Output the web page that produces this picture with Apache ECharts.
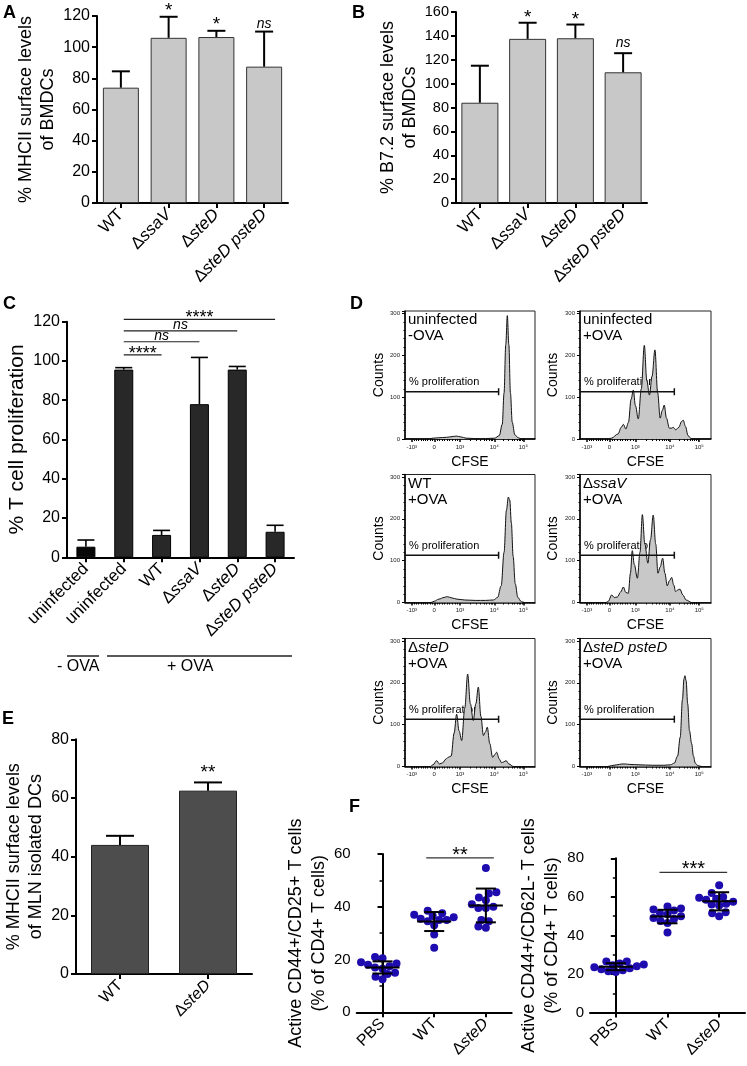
<!DOCTYPE html>
<html><head><meta charset="utf-8">
<script src="https://cdn.jsdelivr.net/npm/echarts@6/dist/echarts.min.js"></script>
<style>html,body{margin:0;padding:0;background:#fff}#c{width:747px;height:1066px}</style>
</head><body><div id="c"></div>
<script>
// ---------------- DATA ----------------
// Panel A: % MHCII surface levels of BMDCs
const catsAB = ['WT', 'ΔssaV', 'ΔsteD', 'ΔsteD psteD'];
const aMean = [74, 106, 106.5, 87.5];
const aSD = [10.5, 13.5, 4, 22.5];
const aSig = ['', '*', '*', 'ns'];
// Panel B: % B7.2 surface levels of BMDCs
const bMean = [84, 137.5, 138, 109.5];
const bSD = [31, 13.5, 11.5, 16];
const bSig = ['', '*', '*', 'ns'];
// Panel C: % T cell proliferation
const catsC = ['uninfected', 'uninfected', 'WT', 'ΔssaV', 'ΔsteD', 'ΔsteD psteD'];
const cMean = [5.4, 95.6, 11.4, 78, 95.6, 13];
const cSD = [3.4, 1, 2.3, 23.8, 1.6, 3.3];
const cBrackets = [
  {from: 1, to: 2, level: 103.1, label: '****'},
  {from: 1, to: 3, level: 109.8, label: 'ns'},
  {from: 1, to: 4, level: 115.3, label: 'ns'},
  {from: 1, to: 5, level: 121.2, label: '****'}
];
// Panel D: CFSE histograms, [display channel (0-1000), counts]
const cfseTickPos = [52, 225, 423, 687, 910];
const cfseTickLabels = ['-10³', '0', '10³', '10⁴', '10⁵'];
const gateEnd = 720;
const gateLevel = 113;
const histUninfNoOva = [[0,0],[180,0],[215,2],[260,3],[320,4],[370,6],[395,7],[430,5],[470,2],[540,1],[620,1],[690,2],[725,8],[748,35],[762,110],[775,225],[787,295],[799,225],[811,110],[825,40],[845,10],[870,3],[900,0],[1000,0]];
const histUninfOva = [[0,0],[200,0],[240,2],[290,12],[315,28],[331,35],[350,24],[370,40],[390,95],[407,117],[423,80],[445,48],[468,120],[491,224],[510,140],[530,105],[550,150],[572,213],[593,110],[612,50],[628,68],[643,81],[660,50],[682,26],[700,26],[712,28],[730,22],[755,28],[775,42],[788,45],[805,30],[825,8],[852,0],[1000,0]];
const histWT = [[0,0],[200,0],[225,3],[260,8],[300,12],[325,14],[360,11],[400,8],[460,6],[540,5],[620,5],[680,6],[712,12],[740,40],[762,120],[780,220],[795,252],[806,245],[818,190],[832,110],[848,45],[868,12],[895,2],[920,0],[1000,0]];
const histSsaV = [[0,0],[200,0],[216,3],[242,18],[262,12],[285,13],[310,25],[331,37],[350,24],[369,22],[385,70],[399,124],[415,90],[438,58],[458,120],[476,210],[495,140],[518,94],[538,150],[559,209],[578,140],[595,70],[612,85],[631,106],[648,70],[666,40],[683,52],[700,60],[715,42],[730,26],[747,30],[763,32],[785,18],[810,6],[852,0],[1000,0]];
const histSteD = [[0,0],[195,0],[215,4],[244,14],[265,6],[290,9],[315,18],[333,22],[355,25],[378,80],[397,125],[416,85],[436,62],[460,140],[482,221],[503,150],[525,110],[545,150],[564,190],[584,120],[603,74],[618,82],[633,94],[652,55],[674,22],[690,28],[705,34],[725,18],[743,9],[760,11],[777,14],[800,6],[833,0],[1000,0]];
const histSteDpSteD = [[0,0],[210,0],[240,2],[280,4],[320,6],[345,6],[380,5],[450,4],[550,3],[640,3],[690,4],[720,8],[745,25],[765,70],[782,160],[794,210],[801,217],[810,205],[822,150],[836,85],[852,55],[866,25],[880,8],[900,2],[930,0],[1000,0]];
// Panel E: % MHCII surface levels of MLN isolated DCs
const catsE = ['WT', 'ΔsteD'];
const eMean = [44, 62.5];
const eSD = [3.1, 2.8];
const eSig = ['', '**'];
// Panel F
const catsF = ['PBS', 'WT', 'ΔsteD'];
const f1PBS = [21, 20.5, 19, 18.5, 18, 17.5, 17, 16.5, 15, 14.5, 13.5, 12.5];
const f1WT = [38.5, 37.5, 37, 36.5, 36, 35.5, 35, 35, 34.5, 33, 29.5, 24.5];
const f1SteD = [54.7, 45.5, 45, 43.5, 42.5, 41, 40, 39.5, 39.5, 35, 34.5, 32.5, 32];
const f1Mean = [17, 34.4, 40.5];
const f1SD = [2.3, 3.6, 6.4];
const f1Bracket = {from: 1, to: 2, level: 58.5, label: '**'};
const f2PBS = [26.5, 26.5, 25.5, 25, 24.5, 24, 23.5, 23, 22.5, 22, 21.5, 21];
const f2WT = [55, 54, 53.5, 53, 51.5, 51, 50, 49, 48.5, 47.5, 46.5, 41.5];
const f2SteD = [66, 62, 60, 59.5, 59, 58.5, 57.5, 56.5, 56, 55.5, 52, 51.5, 50];
const f2Mean = [23.8, 49.8, 57.7];
const f2SD = [1.8, 3.5, 4.7];
const f2Bracket = {from: 1, to: 2, level: 72.7, label: '***'};

// ---------------- BUILD ----------------
const FONT = '"Liberation Sans", Arial, Helvetica, sans-serif';
const BLACK = '#000';
const grids = [], xAxes = [], yAxes = [], series = [], graphics = [];

function richCat(name) {
  return name.charAt(0) === 'Δ' ? '{n|Δ}{i|' + name.slice(1) + '}' : '{n|' + name + '}';
}
function catRich(fs) {
  return {n: {fontSize: fs, fontFamily: FONT, color: BLACK},
          i: {fontSize: fs, fontFamily: FONT, fontStyle: 'italic', color: BLACK}};
}
function sigEl(label, x, y, gap, fsStar, fsNs) {
  const star = label.indexOf('*') >= 0;
  return {type: 'text', style: {text: label, x: x,
    y: star ? y - gap + 0.23 * fsStar : y - gap + 0.47 * fsNs,
    align: 'center', verticalAlign: star ? 'middle' : 'bottom',
    fontSize: star ? fsStar : fsNs, fontStyle: star ? 'normal' : 'italic',
    fontFamily: FONT, fill: BLACK}};
}

function addCatGrid(o) {
  const gi = grids.length;
  grids.push({left: o.left, top: o.top, width: o.width, height: o.height});
  const xi = xAxes.length, yi = yAxes.length;
  xAxes.push({type: 'category', gridIndex: gi, data: o.cats, position: 'bottom',
    axisLine: {show: true, lineStyle: {color: BLACK, width: 2}},
    axisTick: {show: true, alignWithLabel: true, length: 5, lineStyle: {color: BLACK, width: 2}},
    axisLabel: {interval: 0, rotate: 45, margin: o.xMargin || 9, formatter: richCat, rich: catRich(o.xfs)},
    splitLine: {show: false}});
  yAxes.push({type: 'value', gridIndex: gi, min: 0, max: o.max, interval: o.interval,
    name: o.yname, nameLocation: 'middle', nameGap: o.nameGap,
    nameTextStyle: {fontSize: o.nfs, lineHeight: o.nlh, fontFamily: FONT, color: BLACK, align: 'center'},
    axisLine: {show: true, lineStyle: {color: BLACK, width: 2}},
    axisTick: {show: true, length: 5, lineStyle: {color: BLACK, width: 2}},
    minorTick: o.minor ? {show: true, splitNumber: o.minor, length: 3, lineStyle: {color: BLACK, width: 1.5}} : {show: false},
    axisLabel: {fontSize: o.yfs, fontFamily: FONT, color: BLACK, margin: o.yMargin || 7},
    splitLine: {show: false}});
  return {gi, xi, yi};
}

function barPanel(o) {
  const {xi, yi} = addCatGrid(o);
  series.push({type: 'bar', xAxisIndex: xi, yAxisIndex: yi, barWidth: o.barWidth, silent: true,
    data: o.mean.map((v, i) => ({value: v, itemStyle: {color: o.colors ? o.colors[i] : o.color}})),
    itemStyle: {borderColor: o.border, borderWidth: 1}});
  series.push({type: 'custom', xAxisIndex: xi, yAxisIndex: yi, z: 5, silent: true,
    data: o.mean.map((v, i) => [i, v, v + o.sd[i]]),
    renderItem: (params, api) => {
      const p0 = api.coord([api.value(0), api.value(1)]);
      const p1 = api.coord([api.value(0), api.value(2)]);
      const hw = o.capW / 2;
      const ch = [
        {type: 'line', shape: {x1: p0[0], y1: p0[1], x2: p1[0], y2: p1[1]}, style: {stroke: BLACK, lineWidth: o.ebw}},
        {type: 'line', shape: {x1: p1[0] - hw, y1: p1[1], x2: p1[0] + hw, y2: p1[1]}, style: {stroke: BLACK, lineWidth: o.ebw}}
      ];
      const s = o.sig ? o.sig[params.dataIndex] : '';
      if (s) ch.push(sigEl(s, p1[0], p1[1], s.indexOf('*') >= 0 ? o.starGap : o.nsGap, o.starFs, 14));
      return {type: 'group', children: ch};
    }});
  if (o.brackets) {
    series.push({type: 'custom', xAxisIndex: xi, yAxisIndex: yi, z: 5, silent: true, clip: false,
      data: o.brackets.map(b => [b.from, b.to, b.level]),
      renderItem: (params, api) => {
        const b = o.brackets[params.dataIndex];
        const a = api.coord([b.from, b.level]);
        const c = api.coord([b.to, b.level]);
        const x1 = a[0] - (o.brExt || 0), x2 = c[0] + (o.brExt || 0);
        return {type: 'group', children: [
          {type: 'line', shape: {x1: x1, y1: a[1], x2: x2, y2: a[1]}, style: {stroke: '#222', lineWidth: 1.2}},
          sigEl(b.label, (x1 + x2) / 2, a[1], o.brGap, o.starFs, 14)
        ]};
      }});
  }
}

// A
barPanel({left: 97, top: 16, width: 191, height: 187, cats: catsAB, max: 120, interval: 20,
  yname: '% MHCII surface levels\nof BMDCs', nameGap: 31, nfs: 18, nlh: 22, yfs: 16, xfs: 17,
  mean: aMean, sd: aSD, sig: aSig, color: '#c8c8c8', border: '#333', barWidth: 36,
  capW: 18, ebw: 2, starGap: 10.5, nsGap: 7.3, starFs: 19});
// B
barPanel({left: 456, top: 12, width: 191, height: 191, cats: catsAB, max: 160, interval: 20,
  yname: '% B7.2 surface levels\nof BMDCs', nameGap: 32, nfs: 18, nlh: 22, yfs: 14.5, xfs: 17,
  mean: bMean, sd: bSD, sig: bSig, color: '#c8c8c8', border: '#333', barWidth: 37,
  capW: 18, ebw: 2, starGap: 9.5, nsGap: 10, starFs: 19});
// C
barPanel({left: 67, top: 321.7, width: 227, height: 235.6, cats: catsC, max: 120, interval: 20,
  yname: '% T cell proliferation', nameGap: 33, nfs: 21, nlh: 24, yfs: 16, xfs: 17,
  mean: cMean, sd: cSD, colors: ['#080808', '#282828', '#282828', '#282828', '#282828', '#282828'],
  border: '#000', barWidth: 19, capW: 17, ebw: 1.6, starFs: 18,
  brackets: cBrackets, brGap: 5, brExt: 0});
// E
barPanel({left: 76, top: 739.3, width: 176, height: 234.7, cats: catsE, max: 80, interval: 20,
  yname: '% MHCII surface levels\nof MLN isolated DCs', nameGap: 28, nfs: 18, nlh: 22, yfs: 16, xfs: 16,
  mean: eMean, sd: eSD, sig: eSig, color: '#4d4d4d', border: '#222', barWidth: 58,
  capW: 28, ebw: 2, starGap: 14, nsGap: 8, starFs: 19});

// F dot plots
function beeswarm(vals, pxPerUnit, r) {
  const order = vals.map((v, i) => i).sort((a, b) => vals[a] - vals[b]);
  const placed = [], offs = new Array(vals.length).fill(0);
  for (const i of order) {
    const y = vals[i] * pxPerUnit;
    let best = 0;
    for (let k = 0; k < 400; k++) {
      const cand = (k % 2 ? -1 : 1) * Math.ceil(k / 2) * 0.5;
      if (placed.every(p => Math.hypot(p.x - cand, p.y - y) >= 2 * r)) { best = cand; break; }
    }
    placed.push({x: best, y: y});
    offs[i] = best;
  }
  return offs;
}
function dotPanel(o) {
  const {gi, xi, yi} = addCatGrid(o);
  const vxi = xAxes.length;
  xAxes.push({type: 'value', gridIndex: gi, min: -0.5, max: o.groups.length - 0.5, show: false});
  const pxU = o.height / o.max, catW = o.width / o.groups.length;
  o.groups.forEach((vals, g) => {
    const offs = beeswarm(vals, pxU, 3.6);
    series.push({type: 'scatter', xAxisIndex: vxi, yAxisIndex: yi, symbolSize: 8, silent: true,
      itemStyle: {color: '#1e0cae', opacity: 1},
      data: vals.map((v, i) => [g + offs[i] / catW, v])});
  });
  series.push({type: 'custom', xAxisIndex: xi, yAxisIndex: yi, z: 6, silent: true,
    data: o.mean.map((m, i) => [i, m, o.sd[i]]),
    renderItem: (params, api) => {
      const i = api.value(0), m = api.value(1), s = api.value(2);
      const pm = api.coord([i, m]), pu = api.coord([i, m + s]), pl = api.coord([i, m - s]);
      const st = {stroke: BLACK, lineWidth: 2};
      return {type: 'group', children: [
        {type: 'line', shape: {x1: pm[0] - 17, y1: pm[1], x2: pm[0] + 17, y2: pm[1]}, style: st},
        {type: 'line', shape: {x1: pu[0], y1: pu[1], x2: pl[0], y2: pl[1]}, style: st},
        {type: 'line', shape: {x1: pu[0] - 10, y1: pu[1], x2: pu[0] + 10, y2: pu[1]}, style: st},
        {type: 'line', shape: {x1: pl[0] - 10, y1: pl[1], x2: pl[0] + 10, y2: pl[1]}, style: st}
      ]};
    }});
  const b = o.bracket;
  series.push({type: 'custom', xAxisIndex: xi, yAxisIndex: yi, z: 6, silent: true, clip: false,
    data: [[b.from, b.to, b.level]],
    renderItem: (params, api) => {
      const a = api.coord([b.from, b.level]), c = api.coord([b.to, b.level]);
      const x1 = a[0] - 8, x2 = c[0] + 8;
      return {type: 'group', children: [
        {type: 'line', shape: {x1: x1, y1: a[1], x2: x2, y2: a[1]}, style: {stroke: '#333', lineWidth: 1.2}},
        sigEl(b.label, (x1 + x2) / 2, a[1], 7, 20, 14)
      ]};
    }});
}
dotPanel({left: 356.7, top: 854, width: 155, height: 158.3, cats: catsF, max: 60, interval: 20, minor: 2,
  yname: 'Active CD44+/CD25+ T cells\n(% of CD4+ T cells)', nameGap: 22, nfs: 18, nlh: 23, yfs: 15, xfs: 16,
  groups: [f1PBS, f1WT, f1SteD], mean: f1Mean, sd: f1SD, bracket: f1Bracket, yMargin: 6});
dotPanel({left: 590, top: 858.3, width: 155, height: 154.3, cats: catsF, max: 80, interval: 20, minor: 2,
  yname: 'Active CD44+/CD62L- T cells\n(% of CD4+ T cells)', nameGap: 23, nfs: 18, nlh: 23, yfs: 15, xfs: 16,
  groups: [f2PBS, f2WT, f2SteD], mean: f2Mean, sd: f2SD, bracket: f2Bracket, yMargin: 6});

// D histograms
const YMAXH = 306;
const cfseMinor = [];
for (let k = 1; k < 10; k++) {
  cfseMinor.push(cfseTickPos[1] - (cfseTickPos[1] - cfseTickPos[0]) * k / 10);
  cfseMinor.push(cfseTickPos[1] + (cfseTickPos[2] - cfseTickPos[1]) * k / 10);
}
for (let k = 2; k < 10; k++) {
  cfseMinor.push(cfseTickPos[2] + (cfseTickPos[3] - cfseTickPos[2]) * Math.log10(k));
  cfseMinor.push(cfseTickPos[3] + (cfseTickPos[4] - cfseTickPos[3]) * Math.log10(k));
}
function histPanel(o) {
  const gi = grids.length;
  grids.push({left: o.left, top: o.top, width: o.width, height: o.height, show: true,
    borderColor: '#222', borderWidth: 1, backgroundColor: 'rgba(0,0,0,0)'});
  const xi = xAxes.length;
  xAxes.push({type: 'value', gridIndex: gi, min: 0, max: 1000, position: 'bottom',
    name: 'CFSE', nameLocation: 'middle', nameGap: 16,
    nameTextStyle: {fontSize: 14, fontFamily: FONT, color: BLACK},
    axisLine: {show: true, lineStyle: {color: BLACK, width: 1.5}},
    axisTick: {show: true, customValues: cfseTickPos, length: 3, lineStyle: {color: BLACK, width: 1.5}},
    axisLabel: {customValues: cfseTickPos, fontSize: 6, margin: 5, fontFamily: FONT, color: '#222',
      formatter: v => cfseTickLabels[cfseTickPos.indexOf(v)]},
    splitLine: {show: false}});
  // minor ticks: second axis sits on top by default, shifted down onto the bottom edge
  xAxes.push({type: 'value', gridIndex: gi, min: 0, max: 1000, position: 'top', offset: -o.height,
    axisLine: {show: false}, axisLabel: {show: false}, splitLine: {show: false},
    axisTick: {show: true, inside: true, customValues: cfseMinor, length: 2, lineStyle: {color: BLACK, width: 1}}});
  const yi = yAxes.length;
  yAxes.push({type: 'value', gridIndex: gi, min: 0, max: YMAXH, interval: 100,
    name: 'Counts', nameLocation: 'middle', nameGap: o.countsGap,
    nameTextStyle: {fontSize: 14, fontFamily: FONT, color: BLACK},
    axisLine: {show: true, lineStyle: {color: BLACK, width: 1.5}},
    axisTick: {show: true, length: 3, lineStyle: {color: BLACK, width: 1}},
    minorTick: {show: true, splitNumber: 5, length: 1.5, lineStyle: {color: BLACK, width: 1}},
    axisLabel: {fontSize: 6, margin: 5, fontFamily: FONT, color: '#222',
      formatter: v => (v % 100 === 0 ? String(v) : '')},
    splitLine: {show: false}});
  series.push({type: 'line', xAxisIndex: xi, yAxisIndex: yi, data: o.data, smooth: 0.35,
    smoothMonotone: 'x', symbol: 'none', silent: true,
    lineStyle: {color: '#111', width: 1}, areaStyle: {color: '#c8c8c8', opacity: 1}});
  series.push({type: 'line', xAxisIndex: xi, yAxisIndex: yi, silent: true, z: 4,
    data: [{value: [0, gateLevel], symbol: 'none'}, {value: [gateEnd, gateLevel], symbol: 'rect', symbolSize: [1.5, 7]}],
    showSymbol: true, itemStyle: {color: '#111'}, lineStyle: {color: '#111', width: 1.3}});
  const gy = o.top + o.height * (1 - gateLevel / YMAXH);
  graphics.push({type: 'text', left: o.left + 4, top: gy - 15,
    style: {text: '% proliferation', fontSize: 11, fontFamily: FONT, fill: BLACK}});
  graphics.push({type: 'text', left: o.left + 3, top: o.top + 1,
    style: {text: o.label, fontFamily: FONT, fill: BLACK, lineHeight: 16,
      rich: {n: {fontSize: 15, fontFamily: FONT, lineHeight: 16}, i: {fontSize: 15, fontStyle: 'italic', fontFamily: FONT, lineHeight: 16}}}});
}
const HL = 405, HR = 580, HW1 = 130, HW2 = 131, HH = 128;
histPanel({left: HL, top: 311, width: HW1, height: HH, data: histUninfNoOva, label: '{n|uninfected}\n{n|-OVA}', countsGap: 12});
histPanel({left: HR, top: 311, width: HW2, height: HH, data: histUninfOva, label: '{n|uninfected}\n{n|+OVA}', countsGap: 20});
histPanel({left: HL, top: 474.5, width: HW1, height: HH, data: histWT, label: '{n|WT}\n{n|+OVA}', countsGap: 12});
histPanel({left: HR, top: 474.5, width: HW2, height: HH, data: histSsaV, label: '{n|Δ}{i|ssaV}\n{n|+OVA}', countsGap: 20});
histPanel({left: HL, top: 638.5, width: HW1, height: HH, data: histSteD, label: '{n|Δ}{i|steD}\n{n|+OVA}', countsGap: 12});
histPanel({left: HR, top: 638.5, width: HW2, height: HH, data: histSteDpSteD, label: '{n|Δ}{i|steD psteD}\n{n|+OVA}', countsGap: 20});

// panel letters
[['A', 3, 4], ['B', 352, 4], ['C', 3, 295], ['D', 350, 295], ['E', 2, 710], ['F', 349, 798]].forEach(([t, x, y]) => {
  graphics.push({type: 'text', left: x, top: y, style: {text: t, fontSize: 18, fontWeight: 'bold', fontFamily: FONT, fill: BLACK}});
});
// OVA grouping under C
graphics.push({type: 'line', shape: {x1: 67, y1: 656, x2: 99, y2: 656}, style: {stroke: '#222', lineWidth: 1.5}});
graphics.push({type: 'line', shape: {x1: 107, y1: 656, x2: 292, y2: 656}, style: {stroke: '#222', lineWidth: 1.5}});
graphics.push({type: 'text', left: 57, top: 659, style: {text: '- OVA', fontSize: 16, fontFamily: FONT, fill: BLACK}});
graphics.push({type: 'text', left: 167, top: 659, style: {text: '+ OVA', fontSize: 16, fontFamily: FONT, fill: BLACK}});

const chart = echarts.init(document.getElementById('c'), null, {renderer: 'canvas'});
chart.setOption({animation: false, backgroundColor: '#fff', textStyle: {fontFamily: FONT},
  grid: grids, xAxis: xAxes, yAxis: yAxes, series: series, graphic: graphics});
</script></body></html>
